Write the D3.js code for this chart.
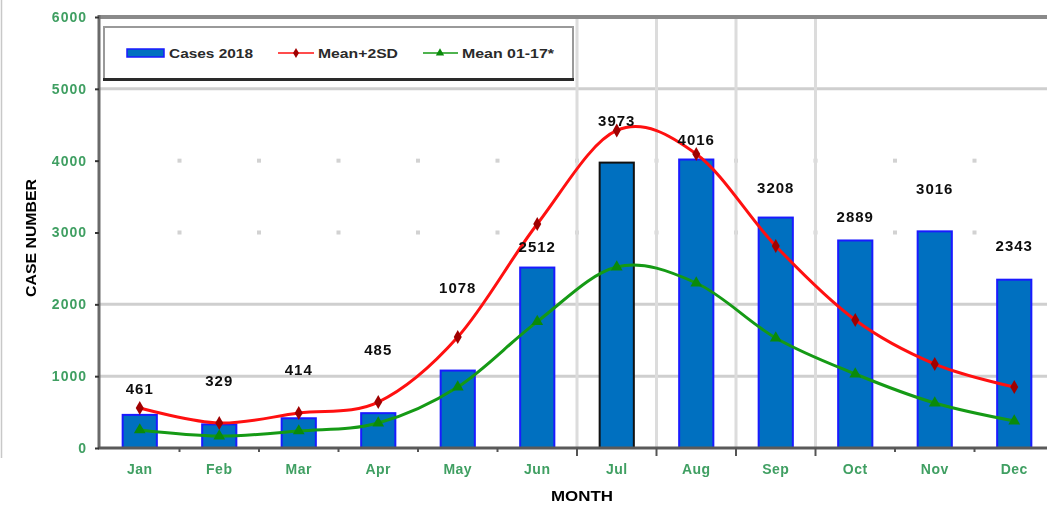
<!DOCTYPE html>
<html>
<head>
<meta charset="utf-8">
<script src="https://cdn.jsdelivr.net/npm/d3@7"></script>
<style>
  html, body { margin: 0; padding: 0; background: #fff; }
  svg { display: block; }
  text { font-family: "Liberation Sans", Arial, sans-serif; font-weight: bold; }
</style>
</head>
<body>
<svg id="chart" width="1047" height="507"></svg>
<script>
// Monthly case counts for 2018 against the historical threshold and mean
const months = ["Jan", "Feb", "Mar", "Apr", "May", "Jun", "Jul", "Aug", "Sep", "Oct", "Nov", "Dec"];
const cases2018 = [461, 329, 414, 485, 1078, 2512, 3973, 4016, 3208, 2889, 3016, 2343];
const meanPlus2SD = [557, 348, 487, 640, 1545, 3118, 4420, 4093, 2812, 1782, 1169, 849];
const mean0117 = [251, 167, 237, 348, 849, 1760, 2520, 2297, 1531, 1030, 626, 376];
const yTicks = [0, 1000, 2000, 3000, 4000, 5000, 6000];
const legendLabels = ["Cases 2018", "Mean+2SD", "Mean 01-17*"];

const svg = d3.select("#chart");

const defs = svg.append("defs");
defs.append("filter").attr("id", "soft")
  .append("feGaussianBlur").attr("stdDeviation", 0.6);

const x = d3.scaleBand().domain(months).range([100, 1054])
  .paddingInner(0.57).paddingOuter(0.285);
const y = d3.scaleLinear().domain([0, 6000]).range([448, 17]);
const step = x.step();
const cx = m => x(m) + x.bandwidth() / 2;
const boundaries = d3.range(1, months.length).map(k => x.range()[0] + k * step);

// thin page edge on the far left
svg.append("line").attr("x1", 1.5).attr("x2", 1.5).attr("y1", 0).attr("y2", 458)
  .attr("stroke", "#c8c8c8").attr("stroke-width", 1.5);

// solid gridlines
const grid = svg.append("g");
[1000, 2000, 5000].forEach(v => {
  grid.append("line").attr("x1", 99).attr("x2", 1047)
    .attr("y1", y(v)).attr("y2", y(v))
    .attr("stroke", "#cfcfcf").attr("stroke-width", 3);
});
// dotted gridlines: only specks left at the month boundaries
[3000, 4000].forEach(v => {
  grid.selectAll(null).data(boundaries).join("rect")
    .attr("x", d => d - 2).attr("y", y(v) - 2)
    .attr("width", 4).attr("height", 4).attr("fill", "#d2d2d2");
});
// vertical gridlines in the second half of the year
boundaries.slice(5, 9).forEach(b => {
  grid.append("line").attr("x1", b).attr("x2", b)
    .attr("y1", y(6000)).attr("y2", y(0))
    .attr("stroke", "#dcdcdc").attr("stroke-width", 3);
});

// top frame of the plot
svg.append("line").attr("x1", 98).attr("x2", 1047)
  .attr("y1", y(6000)).attr("y2", y(6000))
  .attr("stroke", "#8a8a8a").attr("stroke-width", 4);

// bars
svg.append("g").selectAll("rect").data(months).join("rect")
  .attr("x", d => x(d))
  .attr("y", (d, i) => y(cases2018[i]))
  .attr("width", x.bandwidth())
  .attr("height", (d, i) => y(0) - y(cases2018[i]))
  .attr("fill", "#0070c0")
  .attr("stroke", d => d === "Jul" ? "#111" : "#1a1aff")
  .attr("stroke-width", 2);

// smoothed lines
const line = d3.line()
  .x((d, i) => cx(months[i]))
  .y(d => y(d))
  .curve(d3.curveCatmullRom.alpha(0));

svg.append("path").datum(mean0117).attr("d", line)
  .attr("fill", "none").attr("stroke", "#159a15").attr("stroke-width", 3);
svg.append("path").datum(meanPlus2SD).attr("d", line)
  .attr("fill", "none").attr("stroke", "#ff1010").attr("stroke-width", 3);

const diamond = d3.symbol().type(d3.symbolDiamond).size(55);
const triangle = d3.symbol().type(d3.symbolTriangle).size(60);

svg.append("g").selectAll("path").data(meanPlus2SD).join("path")
  .attr("d", diamond)
  .attr("transform", (d, i) => `translate(${cx(months[i])},${y(d)})`)
  .attr("fill", "#a00000");
svg.append("g").selectAll("path").data(mean0117).join("path")
  .attr("d", triangle)
  .attr("transform", (d, i) => `translate(${cx(months[i])},${y(d)})`)
  .attr("fill", "#0a8a0a");

// axes lines
svg.append("line").attr("x1", 99).attr("x2", 99).attr("y1", y(6000) - 2).attr("y2", y(0) + 1)
  .attr("stroke", "#6a6a6a").attr("stroke-width", 3);
svg.append("line").attr("x1", 98).attr("x2", 1047).attr("y1", y(0)).attr("y2", y(0))
  .attr("stroke", "#5a5a5a").attr("stroke-width", 3);

// y ticks and labels
const yAxis = d3.axisLeft(y).tickValues(yTicks).tickSize(4).tickFormat(d3.format("d"));
const gy = svg.append("g").attr("transform", "translate(99,0)").call(yAxis);
gy.select(".domain").remove();
gy.selectAll(".tick line").attr("stroke", "#333").attr("stroke-width", 2);
gy.selectAll(".tick text")
  .attr("x", -12).attr("fill", "#3f9f62")
  .style("font-size", "14px").style("font-weight", "bold").style("letter-spacing", "1px")
  .style("font-family", "'Liberation Sans', Arial, sans-serif")
  .attr("filter", "url(#soft)");

// x ticks at month boundaries, longer where the vertical gridlines meet the axis
svg.append("g").selectAll("line").data(boundaries).join("line")
  .attr("x1", d => d).attr("x2", d => d)
  .attr("y1", y(0)).attr("y2", (d, i) => y(0) + (i >= 5 && i <= 8 ? 8 : 4))
  .attr("stroke", "#555").attr("stroke-width", 2);

const xAxis = d3.axisBottom(x).tickSize(0).tickPadding(16);
const gx = svg.append("g").attr("transform", `translate(0,${y(0)})`).call(xAxis);
gx.select(".domain").remove();
gx.selectAll(".tick text").attr("fill", "#3f9f62")
  .style("font-size", "14px").style("font-weight", "bold").style("letter-spacing", "0.5px")
  .style("font-family", "'Liberation Sans', Arial, sans-serif")
  .attr("filter", "url(#soft)");

// axis titles
svg.append("text").text("MONTH")
  .attr("x", 582).attr("y", 501).attr("text-anchor", "middle")
  .attr("fill", "#000").style("font-size", "15px")
  .attr("textLength", 62).attr("lengthAdjust", "spacingAndGlyphs")
  .attr("filter", "url(#soft)");
svg.append("text").text("CASE NUMBER")
  .attr("transform", "translate(36,238) rotate(-90)").attr("text-anchor", "middle")
  .attr("fill", "#000").style("font-size", "14px")
  .attr("textLength", 118).attr("lengthAdjust", "spacingAndGlyphs")
  .attr("filter", "url(#soft)");

// value labels over the bars, lifted clear of the lines
const labelLift = [26, 43, 48, 63, 83, 21, 42, 20, 30, 23, 42, 34];
svg.append("g").selectAll("text").data(cases2018).join("text")
  .text(d => d)
  .attr("x", (d, i) => cx(months[i]))
  .attr("y", (d, i) => y(d) - labelLift[i] + 5)
  .attr("text-anchor", "middle")
  .attr("fill", "#111").style("font-size", "15px").style("letter-spacing", "1px")
  .attr("filter", "url(#soft)");

// legend
const lg = svg.append("g");
lg.append("rect").attr("x", 104).attr("y", 27).attr("width", 469).attr("height", 52)
  .attr("fill", "#fff").attr("stroke", "#9a9a9a").attr("stroke-width", 2);
lg.append("line").attr("x1", 103).attr("x2", 574).attr("y1", 79.5).attr("y2", 79.5)
  .attr("stroke", "#2a2a2a").attr("stroke-width", 3);

lg.append("rect").attr("x", 127).attr("y", 49).attr("width", 37).attr("height", 8)
  .attr("fill", "#0070c0").attr("stroke", "#1a1aff").attr("stroke-width", 1.5);
lg.append("line").attr("x1", 278).attr("x2", 314).attr("y1", 53).attr("y2", 53)
  .attr("stroke", "#ff1010").attr("stroke-width", 1.5);
lg.append("path").attr("d", d3.symbol().type(d3.symbolDiamond).size(30))
  .attr("transform", "translate(296,53)").attr("fill", "#a00000");
lg.append("line").attr("x1", 423).attr("x2", 458).attr("y1", 53).attr("y2", 53)
  .attr("stroke", "#159a15").attr("stroke-width", 1.5);
lg.append("path").attr("d", d3.symbol().type(d3.symbolTriangle).size(30))
  .attr("transform", "translate(440,53)").attr("fill", "#0a8a0a");

const legendX = [169, 318, 462];
const legendW = [84, 80, 92];
lg.selectAll("text.lbl").data(legendLabels).join("text").attr("class", "lbl")
  .text(d => d)
  .attr("x", (d, i) => legendX[i]).attr("y", 58)
  .attr("fill", "#2a2a2a").style("font-size", "13px")
  .attr("textLength", (d, i) => legendW[i]).attr("lengthAdjust", "spacingAndGlyphs");
</script>
</body>
</html>
